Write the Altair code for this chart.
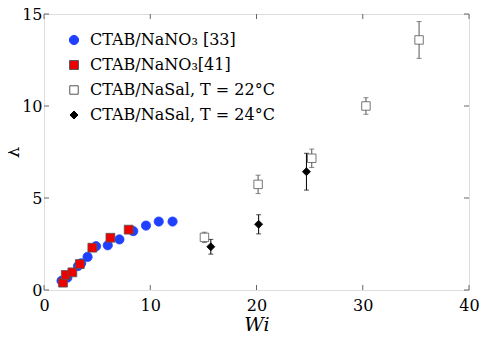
import altair as alt
import pandas as pd

# ---- data ----
series_names = ["CTAB/NaNO₃ [33]", "CTAB/NaNO₃[41]", "CTAB/NaSal, T = 22°C", "CTAB/NaSal, T = 24°C"]

wi_33 = [1.65, 2.2, 3.2, 3.5, 4.1, 4.9, 6.0, 7.1, 8.4, 9.6, 10.8, 12.1]
lam_33 = [0.5, 0.67, 1.3, 1.45, 1.8, 2.38, 2.43, 2.75, 3.2, 3.5, 3.72, 3.72]

wi_41 = [1.79, 2.05, 2.67, 3.37, 4.55, 6.25, 7.97]
lam_41 = [0.4, 0.82, 0.96, 1.41, 2.3, 2.84, 3.28]

wi_22 = [15.1, 20.15, 25.2, 30.3, 35.3]
lam_22 = [2.86, 5.74, 7.16, 10.0, 13.59]
err_22 = [0.28, 0.5, 0.5, 0.45, 1.0]

wi_24 = [15.7, 20.2, 24.7]
lam_24 = [2.35, 3.57, 6.43]
err_24 = [0.4, 0.52, 1.0]

x_ticks = [0, 10, 20, 30, 40]
y_ticks = [0, 5, 10, 15]

# ---- tables ----
rows = []
for w, l in zip(wi_33, lam_33):
    rows.append({"series": series_names[0], "wi": w, "lam": l, "err": 0.0})
for w, l in zip(wi_41, lam_41):
    rows.append({"series": series_names[1], "wi": w, "lam": l, "err": 0.0})
for w, l, e in zip(wi_22, lam_22, err_22):
    rows.append({"series": series_names[2], "wi": w, "lam": l, "err": e})
for w, l, e in zip(wi_24, lam_24, err_24):
    rows.append({"series": series_names[3], "wi": w, "lam": l, "err": e})
df = pd.DataFrame(rows)
df["lo"] = df["lam"] - df["err"]
df["hi"] = df["lam"] + df["err"]
df["order"] = df["series"].map({s: i for i, s in enumerate(series_names)})

err_df = df[df["err"] > 0].copy()
err_df["ecol"] = err_df["series"].map({series_names[2]: "#555555", series_names[3]: "#000000"})

W, H = 425, 276
FONT = "DejaVu Serif"

xs = alt.Scale(domain=[0, 40], nice=False, zero=False)
ys = alt.Scale(domain=[0, 15], nice=False, zero=False)

x_axis = alt.Axis(values=x_ticks, ticks=False, domain=False, grid=False, labelFont=FONT,
                  labelFontSize=16, labelPadding=7, labelFlush=False, labelOverlap=False,
                  title="Wi", titleFont=FONT, titleFontStyle="italic", titleFontWeight="normal",
                  titleFontSize=19, titlePadding=2, labelColor="black", titleColor="black")
y_axis = alt.Axis(values=y_ticks, ticks=False, domain=False, grid=False, labelFont=FONT,
                  labelFontSize=16, labelPadding=2, labelOverlap=False, labelFlush=False,
                  labelBaseline="middle",
                  title="λ", titleFont=FONT, titleFontWeight="normal", titleFontStyle="normal",
                  titleFontSize=18, titleX=-31, titleY=H / 2, titleAngle=270,
                  titleAlign="center", titleBaseline="middle",
                  labelColor="black", titleColor="black")

base = alt.Chart(df)

# error bars
err_rules = alt.Chart(err_df).mark_rule(strokeWidth=1).encode(
    x=alt.X("wi:Q", scale=xs, axis=x_axis),
    y=alt.Y("lo:Q", scale=ys, axis=y_axis),
    y2="hi:Q",
    color=alt.Color("ecol:N", scale=None, legend=None),
)
cap_lo = alt.Chart(err_df).mark_tick(orient="horizontal", size=5, thickness=1).encode(
    x=alt.X("wi:Q", scale=xs), y=alt.Y("lo:Q", scale=ys),
    color=alt.Color("ecol:N", scale=None, legend=None),
)
cap_hi = alt.Chart(err_df).mark_tick(orient="horizontal", size=5, thickness=1).encode(
    x=alt.X("wi:Q", scale=xs), y=alt.Y("hi:Q", scale=ys),
    color=alt.Color("ecol:N", scale=None, legend=None),
)

legend = alt.Legend(orient="none", legendX=22, legendY=18, title=None, labelFont=FONT,
                    labelFontSize=16, labelColor="black", rowPadding=9, symbolSize=45,
                    labelOffset=8, symbolStrokeWidth=1, labelLimit=0)

points = base.mark_point(filled=True, opacity=1, strokeWidth=0.8).encode(
    x=alt.X("wi:Q", scale=xs),
    y=alt.Y("lam:Q", scale=ys),
    fill=alt.Fill("series:N", scale=alt.Scale(domain=series_names,
                  range=["#2040ff", "#ee0000", "#ffffff", "#000000"]), legend=legend),
    stroke=alt.Stroke("series:N", scale=alt.Scale(domain=series_names,
                  range=["#2040ff", "#555555", "#555555", "#000000"]), legend=legend),
    shape=alt.Shape("series:N", scale=alt.Scale(domain=series_names,
                  range=["circle", "square", "square", "diamond"]), legend=legend),
    size=alt.Size("series:N", scale=alt.Scale(domain=series_names,
                  range=[85, 65, 45, 75]), legend=legend),
    order=alt.Order("order:Q"),
)

# inward ticks on all four sides
xt = pd.DataFrame({"t": x_ticks})
yt = pd.DataFrame({"t": y_ticks})
tick_style = dict(color="#666666", strokeWidth=1)
xb = alt.Chart(xt).mark_rule(**tick_style).encode(x=alt.X("t:Q", scale=xs), y=alt.value(H), y2=alt.value(H - 5))
xtop = alt.Chart(xt).mark_rule(**tick_style).encode(x=alt.X("t:Q", scale=xs), y=alt.value(0), y2=alt.value(5))
yl = alt.Chart(yt).mark_rule(**tick_style).encode(y=alt.Y("t:Q", scale=ys), x=alt.value(0), x2=alt.value(5))
yr = alt.Chart(yt).mark_rule(**tick_style).encode(y=alt.Y("t:Q", scale=ys), x=alt.value(W), x2=alt.value(W - 5))

chart = alt.layer(err_rules, cap_lo, cap_hi, xb, xtop, yl, yr, points).properties(
    width=W, height=H,
    autosize=alt.AutoSizeParams(type="none"),
    padding={"left": 36, "top": 6, "right": 21, "bottom": 49},
).configure_view(stroke="#555555", strokeWidth=1.2).configure(background="white")

chart.save("out.html", embed_options={"renderer": "svg", "actions": False})
